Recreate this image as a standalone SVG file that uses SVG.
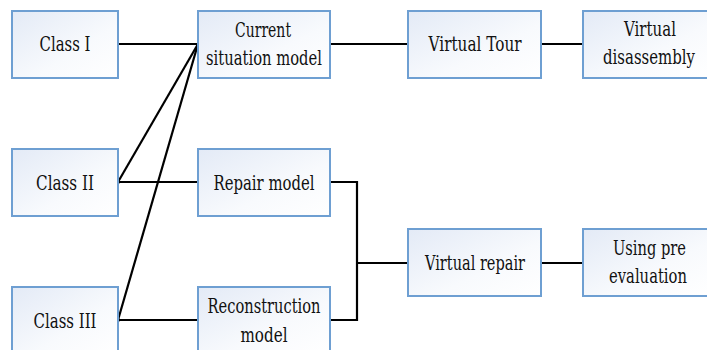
<svg xmlns="http://www.w3.org/2000/svg" width="707" height="350" viewBox="0 0 707 350">
  <defs>
    <linearGradient id="boxFill" x1="0" y1="0" x2="1" y2="1">
      <stop offset="0" stop-color="#e3eaf6"/>
      <stop offset="0.6" stop-color="#f8fafd"/>
      <stop offset="1" stop-color="#ffffff"/>
    </linearGradient>
  </defs>
  <style>
    .box { fill: url(#boxFill); stroke: #6e9fd2; stroke-width: 2; }
    .lbl { font-family: 'DejaVu Serif', 'Liberation Serif', serif; font-size: 21px; fill: #111; text-anchor: middle; }
    .wire { fill: none; stroke: #000; stroke-width: 2.2; }
    .dot { fill: #000; }
  </style>
  <rect width="707" height="350" fill="#ffffff"/>

  <!-- connectors -->
  <g id="connectors">
    <path class="wire" d="M118,44 H198"/>
    <path class="wire" d="M118,182 L198,44"/>
    <path class="wire" d="M118,320 L198,44"/>
    <path class="wire" d="M330,44 H408"/>
    <path class="wire" d="M541,44 H583"/>
    <path class="wire" d="M118,182 H198"/>
    <path class="wire" d="M118,320 H198"/>
    <path class="wire" d="M330,182 H357 V320 H330"/>
    <path class="wire" d="M357,263 H408"/>
    <path class="wire" d="M541,263 H583"/>
    <circle class="dot" cx="118" cy="182" r="2"/>
    <circle class="dot" cx="118" cy="320" r="2"/>
  </g>

  <g id="class1">
    <rect class="box" x="12" y="11" width="106" height="67"/>
    <text class="lbl" x="65" y="51" textLength="51" lengthAdjust="spacingAndGlyphs">Class I</text>
  </g>
  <g id="class2">
    <rect class="box" x="12" y="149" width="106" height="67"/>
    <text class="lbl" x="65" y="190" textLength="58" lengthAdjust="spacingAndGlyphs">Class II</text>
  </g>
  <g id="class3">
    <rect class="box" x="12" y="287" width="106" height="67"/>
    <text class="lbl" x="65" y="328" textLength="63" lengthAdjust="spacingAndGlyphs">Class III</text>
  </g>

  <g id="current-model">
    <rect class="box" x="198" y="11" width="132" height="67"/>
    <text class="lbl" x="263" y="37" textLength="56" lengthAdjust="spacingAndGlyphs">Current</text>
    <text class="lbl" x="264" y="65" textLength="116" lengthAdjust="spacingAndGlyphs">situation model</text>
  </g>
  <g id="repair-model">
    <rect class="box" x="198" y="149" width="132" height="67"/>
    <text class="lbl" x="264" y="190" textLength="101" lengthAdjust="spacingAndGlyphs">Repair model</text>
  </g>
  <g id="reconstruction-model">
    <rect class="box" x="198" y="287" width="132" height="67"/>
    <text class="lbl" x="264" y="313" textLength="113" lengthAdjust="spacingAndGlyphs">Reconstruction</text>
    <text class="lbl" x="264" y="342" textLength="47" lengthAdjust="spacingAndGlyphs">model</text>
  </g>

  <g id="virtual-tour">
    <rect class="box" x="408" y="11" width="133" height="67"/>
    <text class="lbl" x="475" y="51" textLength="93" lengthAdjust="spacingAndGlyphs">Virtual Tour</text>
  </g>
  <g id="virtual-repair">
    <rect class="box" x="408" y="229" width="133" height="67"/>
    <text class="lbl" x="475" y="270" textLength="100" lengthAdjust="spacingAndGlyphs">Virtual repair</text>
  </g>

  <!-- right-hand column runs past the canvas edge -->
  <g id="virtual-disassembly">
    <rect class="box" x="583" y="11" width="126" height="67"/>
    <text class="lbl" x="650" y="36" textLength="52" lengthAdjust="spacingAndGlyphs">Virtual</text>
    <text class="lbl" x="649" y="64" textLength="92" lengthAdjust="spacingAndGlyphs">disassembly</text>
  </g>
  <g id="pre-evaluation">
    <rect class="box" x="583" y="229" width="126" height="67"/>
    <text class="lbl" x="649.5" y="255" textLength="73" lengthAdjust="spacingAndGlyphs">Using pre</text>
    <text class="lbl" x="648" y="283" textLength="78" lengthAdjust="spacingAndGlyphs">evaluation</text>
  </g>
</svg>
